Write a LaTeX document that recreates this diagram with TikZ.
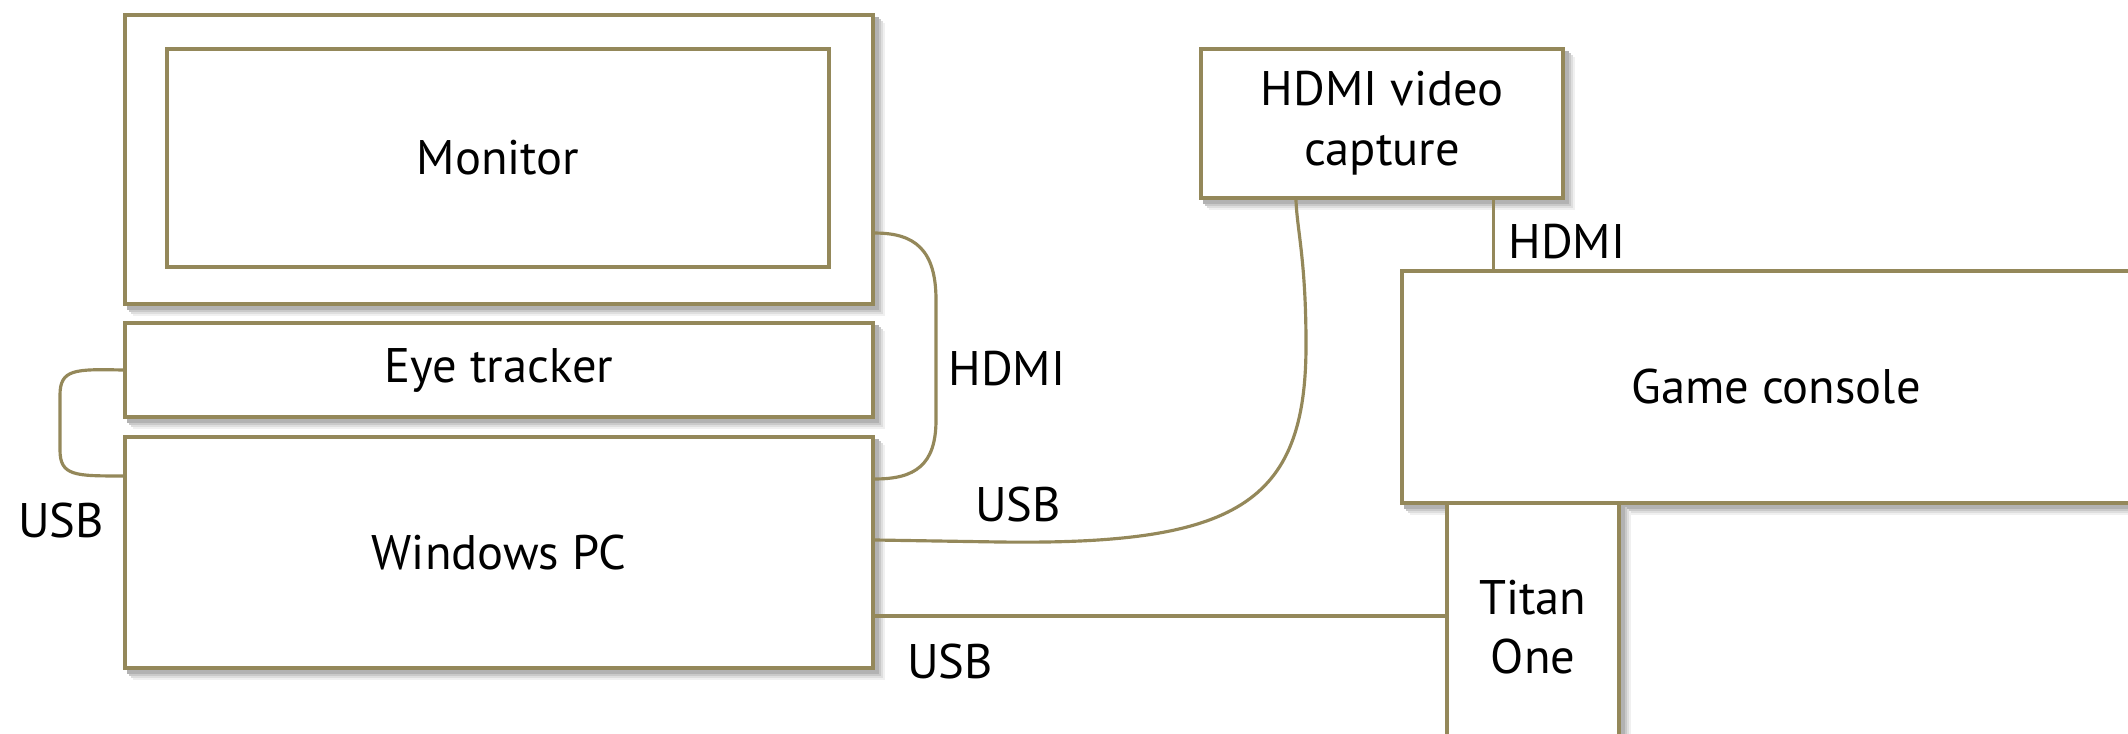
\documentclass[tikz,border=0pt]{standalone}
\usepackage{fontspec}
\setmainfont{PT Sans}
\usetikzlibrary{calc,backgrounds}
\definecolor{olive}{RGB}{148,136,90}
\tikzset{
  box/.style={draw=olive, line width=1.0pt, fill=white, inner sep=0pt, align=center,
    font=\fontsize{13.8}{17}\selectfont},
  cable/.style={draw=olive, line width=0.9pt},
  lbl/.style={inner sep=0pt, font=\fontsize{13.8}{17}\selectfont},
  shadowband/.style={draw=none}
}
\newcommand\mkshadow[1]{%
  \fill[shadowband, black!6]  ([shift={(0.10cm,-0.10cm)}]#1.south west) rectangle ([shift={(0.10cm,-0.10cm)}]#1.north east);
  \fill[shadowband, black!13] ([shift={(0.08cm,-0.08cm)}]#1.south west) rectangle ([shift={(0.08cm,-0.08cm)}]#1.north east);
  \fill[shadowband, black!21] ([shift={(0.06cm,-0.06cm)}]#1.south west) rectangle ([shift={(0.06cm,-0.06cm)}]#1.north east);
  \fill[shadowband, black!30] ([shift={(0.04cm,-0.04cm)}]#1.south west) rectangle ([shift={(0.04cm,-0.04cm)}]#1.north east);
}
\begin{document}
\begin{tikzpicture}[x=0.01cm,y=-0.01cm]
\clip (0,0) rectangle (2128,733);
% boxes
\node[box, minimum width=7.48cm, minimum height=2.89cm] (mon) at (499,159.5) {};
\node[box, minimum width=6.62cm, minimum height=2.18cm] (monin) at (498,158) {Monitor};
\node[box, minimum width=7.48cm, minimum height=0.94cm] (eye) at (499,370) {Eye tracker};
\node[box, minimum width=7.48cm, minimum height=2.31cm] (pc) at (499,552.5) {Windows PC};
\node[box, minimum width=3.62cm, minimum height=1.49cm] (cap) at (1382,123.5) {HDMI video\\capture};
\node[box, minimum width=7.48cm, minimum height=2.32cm] (con) at (1776,387) {Game console};
\node[box, minimum width=1.72cm, minimum height=2.48cm] (titan) at (1533,627) {Titan\\One};
% shadows
\begin{scope}[on background layer]
\fill[white] (0,0) rectangle (2128,733);
\mkshadow{mon}
\mkshadow{eye}
\mkshadow{pc}
\mkshadow{cap}
\mkshadow{con}
\mkshadow{titan}
\end{scope}
% cables
\draw[cable] ([yshift=-0.735cm]mon.east) .. controls (915,233) and (936,250) .. (936,300)
  -- (936,420) .. controls (936,465) and (915,479) .. ([yshift=0.735cm]pc.east);
\draw[cable] (eye.west) .. controls (75,369) and (60,369) .. (60,395)
  -- (60,450) .. controls (60,476) and (75,476) .. ([yshift=0.765cm]pc.west);
\draw[cable] ([yshift=0.125cm]pc.east) -- (1000,542) .. controls (1235,545) and (1306,505) .. (1306,345)
  .. controls (1306,260) and (1297,230) .. ([xshift=-0.86cm]cap.south);
\coordinate (u2) at ([yshift=-0.635cm]pc.east);
\draw[cable] (u2) -- (u2 -| titan.west);
\coordinate (h1) at ([xshift=1.11cm]cap.south);
\draw[cable] (h1) -- (h1 |- con.north);
% labels
\node[lbl] (lhdmi1) at (1007,369) {HDMI};
\node[lbl] (lusb1) at (61,521) {USB};
\node[lbl] (lusb2) at (1018,505) {USB};
\node[lbl] (lusb3) at (950,661) {USB};
\node[lbl] (lhdmi2) at (1567,242) {HDMI};
\end{tikzpicture}
\end{document}
